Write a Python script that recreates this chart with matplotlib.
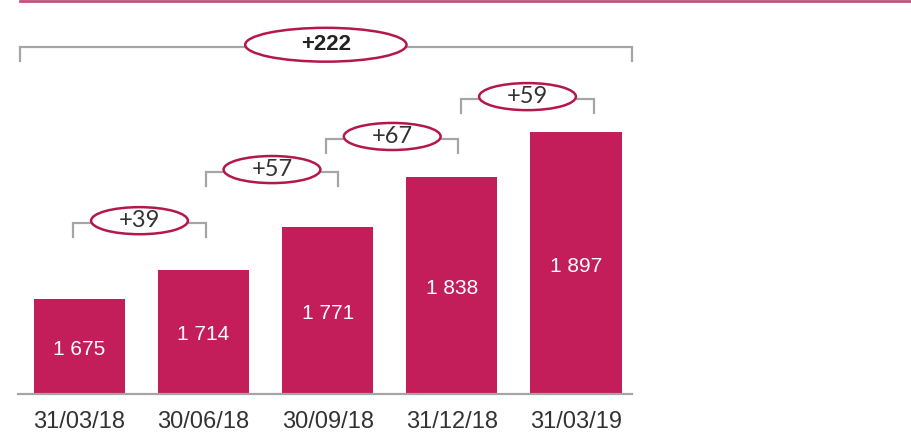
import matplotlib
matplotlib.use("Agg")
import matplotlib.pyplot as plt
from matplotlib.patches import Ellipse
from matplotlib.lines import Line2D

# ---- data ----
categories = ["31/03/18", "30/06/18", "30/09/18", "31/12/18", "31/03/19"]
values = [1675, 1714, 1771, 1838, 1897]
value_labels = ["1 675", "1 714", "1 771", "1 838", "1 897"]
deltas = [39, 57, 67, 59]
total_delta = 222

# ---- style ----
BAR = "#C41E5A"
RING = "#B3174E"
GRAY = "#A5A5A5"
TXT = "#333333"

W, H = 911, 434
fig = plt.figure(figsize=(W / 100, H / 100), dpi=100)
ax = fig.add_axes([18 / W, 1 - 394 / H, 614 / W, 394 / H])
ax.set_xlim(-0.4956, 4.452)
ax.set_ylim(1549, 2073)

x = list(range(len(values)))
ax.bar(x, values, width=0.735, color=BAR, zorder=2)
for xi, v, lab in zip(x, values, value_labels):
    ax.text(xi, (v + 1549) / 2 - 4, lab, color="white", ha="center", va="center",
            fontsize=15, family="Liberation Sans", zorder=3)

ax.set_xticks(x)
ax.set_xticklabels(categories, fontsize=17, color=TXT, family="Liberation Sans")
ax.tick_params(axis="x", length=0, pad=12)
ax.set_yticks([])
for s in ["top", "right", "left"]:
    ax.spines[s].set_visible(False)
ax.spines["bottom"].set_color(GRAY)
ax.spines["bottom"].set_linewidth(1.6)

# bracket layout (data-unit positions)
br_x = [(-0.052, 1.019), (1.019, 2.083), (1.99, 3.05), (3.074, 4.146)]
br_y = [1776, 1844, 1888, 1941]
tick = 18


def bracket(x0, x1, y, label, ew, eh, bold=False, fs=16):
    ax.plot([x0, x0, x1, x1], [y - tick, y, y, y - tick], color=GRAY, lw=1.6,
            solid_joinstyle="miter", zorder=2, clip_on=False)
    xc = (x0 + x1) / 2
    yc = y + 3.5
    ax.add_patch(Ellipse((xc, yc), ew, eh, facecolor="white", edgecolor=RING,
                         lw=1.8, zorder=4, clip_on=False))
    ax.text(xc, yc, label, ha="center", va="center", color=TXT if not bold else "#222222",
            fontsize=fs, fontweight="bold" if bold else "normal",
            family="Liberation Sans" if bold else "Lato", zorder=5)


for (x0, x1), y, d in zip(br_x, br_y, deltas):
    bracket(x0, x1, y, f"+{d}", 0.78, 36, fs=17)

bracket(-0.48, 4.45, 2010, f"+{total_delta}", 1.30, 45, bold=True, fs=16)

# top decorative line
fig.add_artist(Line2D([20 / W, 1], [1 - 1.2 / H, 1 - 1.2 / H], color="#C0507C", lw=2))

fig.savefig("out.png", dpi=100)
